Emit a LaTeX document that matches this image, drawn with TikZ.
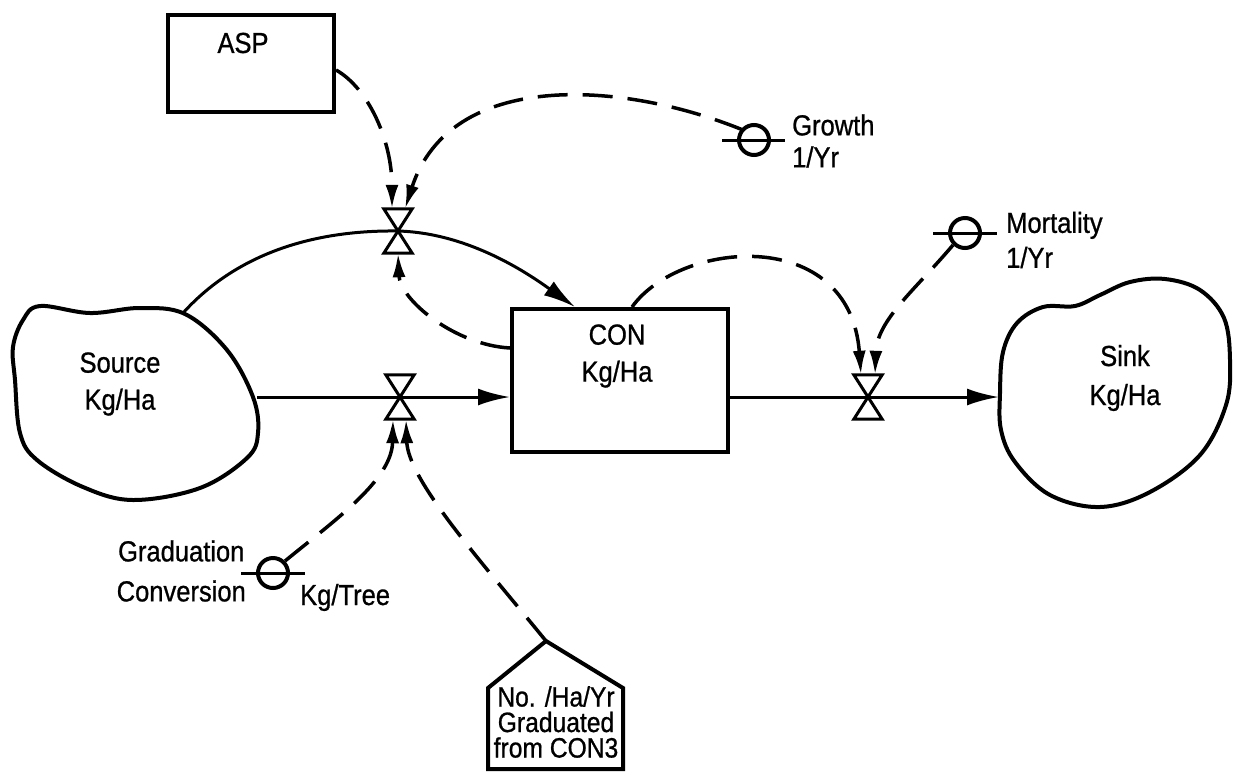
\documentclass[tikz,border=0pt]{standalone}
\usepackage{fontspec}
\setmainfont{Liberation Sans}[FakeStretch=0.88,FakeBold=0.8]
\usetikzlibrary{arrows.meta}
\begin{document}
\begin{tikzpicture}[x=1pt,y=-1pt,
  lbl/.style={inner sep=0pt, align=center, font=\fontsize{29}{#1}\selectfont},
  lbl/.default=37,
  small/.style={inner sep=0pt, align=center, font=\fontsize{28}{25.5}\selectfont},
  level/.style={draw, rectangle, line width=4pt, inner sep=0pt},
  outline/.style={line width=4pt, line join=round},
  flow/.style={line width=3pt, -{Latex[length=32pt,width=17pt]}},
  info/.style={line width=3.5pt, dash pattern=on 30pt off 15pt, -{Latex[length=24pt,width=13pt]}},
  valve/.style={inner sep=0pt, minimum width=28pt, minimum height=44pt},
  valve shape/.style={draw, fill=white, line width=3pt, line join=miter},
  aux/.style={circle, draw, line width=4pt, minimum size=30pt, inner sep=0pt},
  bar/.style={line width=3pt},
]
\useasboundingbox (0,0) rectangle (1233,772);

% ---- levels -------------------------------------------------------
\node[level, minimum width=166pt, minimum height=97pt] (asp) at (251,63.5) {};
\node[lbl] (asptxt) at (243,43) {ASP};
\node[level, minimum width=216pt, minimum height=143pt] (con) at (620,380.5) {};
\node[lbl] (contxt) at (617,356) {CON\\Kg/Ha};

% ---- source and sink clouds ---------------------------------------
\draw[outline] plot[smooth cycle, tension=0.6] coordinates {
  (40,306) (90,313) (140,308) (185,314) (227,350) (253,397) (258,433)
  (247,458) (200,488) (133,500) (83,487) (37,460) (20,433) (15,380)
  (13,347) (23,320)};
\node[lbl] (srctxt) at (120,384) {Source\\Kg/Ha};
\coordinate (srcE) at (257,397);
\coordinate (srcN) at (183,313);

\draw[outline] plot[smooth cycle, tension=0.6] coordinates {
  (1000,393) (1003,352) (1017,323) (1043,307) (1075,306) (1100,295)
  (1130,282) (1165,279) (1200,290) (1224,318) (1230,360) (1226,405)
  (1200,455) (1150,492) (1100,507) (1050,495) (1015,462) (1001,430)};
\node[lbl=39] (sinktxt) at (1125,378) {Sink\\Kg/Ha};
\coordinate (sinkW) at (999,397);

% ---- valves -------------------------------------------------------
\node[valve] (v1) at (398,231) {};
\node[valve] (v2) at (400,397) {};
\node[valve] (v3) at (868,397) {};

% ---- auxiliaries --------------------------------------------------
\node[aux] (gr) at (754,140) {};
\draw[bar] ([xshift=-15pt]gr.west) -- ([xshift=14pt]gr.east);
\node[lbl=32, anchor=west, align=left] (grtxt) at (792,141) {Growth\\1/Yr};

\node[aux] (mo) at (965,233) {};
\draw[bar] ([xshift=-15pt]mo.west) -- ([xshift=15pt]mo.east);
\node[lbl=35, anchor=west, align=left] (motxt) at (1006,240) {Mortality\\1/Yr};

\node[aux] (gc) at (273,573) {};
\draw[bar] ([xshift=-15pt]gc.west) -- ([xshift=15pt]gc.east);
\node[lbl=40, anchor=east] (gctxt) at (246,571) {Graduation\\Conversion};
\node[lbl, anchor=base west] (kgtree) at (300,605) {Kg/Tree};

% ---- external input (house) ---------------------------------------
\coordinate (apex) at (546,641);
\draw[line width=4pt, line join=miter] (488,769) -- (488,688) -- (apex)
  -- (623,688) -- (623,769) -- cycle;
\node[small] (hstxt) at (556,722) {No. /Ha/Yr\\Graduated\\from CON3};

% ---- material flows -----------------------------------------------
\draw[flow] (srcE) -- (v2.center) -- (con.west |- v2.center);
\draw[flow] (con.east |- v3.center) -- (v3.center) -- (sinkW);
\draw[flow] (srcN) .. controls (240,250) and (320,230) .. (v1.center)
  .. controls (470,233) and (530,275) .. ([xshift=65pt]con.north west);

% ---- information links --------------------------------------------
\draw[info] ([yshift=-6.5pt]asp.east) .. controls (368,88) and (392,140) .. ([xshift=-6pt]v1.north);
\draw[info] (743,130) .. controls (620,80) and (450,70) .. ([xshift=7pt]v1.north);
\draw[info] ([yshift=-41pt]con.north west) .. controls (455,345) and (400,300) .. (v1.south);
\draw[info] ([xshift=12pt]con.north) .. controls (680,240) and (850,225) .. ([xshift=-7pt]v3.north);
\draw[info] (mo.225) .. controls (915,290) and (877,320) .. ([xshift=7pt]v3.north);
\draw[info] (gc.45) .. controls (335,520) and (392,480) .. ([xshift=-7pt]v2.south);
\draw[info] (apex) .. controls (480,560) and (408,480) .. ([xshift=6pt]v2.south);

% ---- valve symbols drawn over the flows ---------------------------
\foreach \v in {v1,v2,v3}
  \draw[valve shape] (\v.north west) -- (\v.north east) -- (\v.south west)
    -- (\v.south east) -- cycle;
\end{tikzpicture}
\end{document}
